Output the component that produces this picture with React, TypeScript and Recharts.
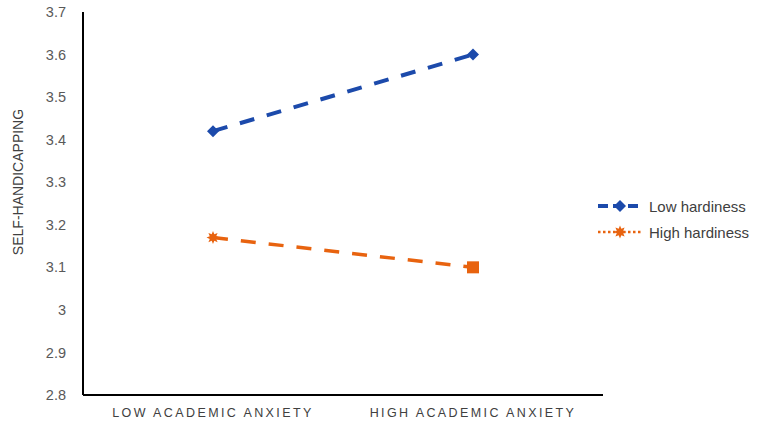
import { LineChart, Line, XAxis, YAxis, Legend } from 'recharts'

const categories = ['LOW ACADEMIC ANXIETY', 'HIGH ACADEMIC ANXIETY']
const lowHardiness = [3.42, 3.6]
const highHardiness = [3.17, 3.1]
const yTicks = [2.8, 2.9, 3, 3.1, 3.2, 3.3, 3.4, 3.5, 3.6, 3.7]

const BLUE = '#1c4aab'
const ORANGE = '#e8630f'

const data = categories.map((name, i) => ({
  name,
  low: lowHardiness[i],
  high: highHardiness[i],
}))

function Diamond({ cx, cy, color }: any) {
  return (
    <path
      d={`M${cx},${cy - 6} L${cx + 6},${cy} L${cx},${cy + 6} L${cx - 6},${cy} Z`}
      fill={color}
    />
  )
}

function Star({ cx, cy, color }: any) {
  const pts: string[] = []
  for (let k = 0; k < 16; k++) {
    const r = k % 2 === 0 ? 6.5 : 3.5
    const a = (Math.PI * 2 * k) / 16
    pts.push(`${cx + r * Math.cos(a)},${cy + r * Math.sin(a)}`)
  }
  return <polygon points={pts.join(' ')} fill={color} />
}

function LowDot(props: any) {
  return <Diamond key={props.index} cx={props.cx} cy={props.cy} color={BLUE} />
}

function HighDot(props: any) {
  if (props.index === 0) return <Star key={props.index} cx={props.cx} cy={props.cy} color={ORANGE} />
  return (
    <rect key={props.index} x={props.cx - 6} y={props.cy - 6} width={12} height={12} fill={ORANGE} />
  )
}

function LegendBox() {
  const rows = [
    { label: 'Low hardiness', color: BLUE, dash: '10 5', width: 4, mark: 'diamond' },
    { label: 'High hardiness', color: ORANGE, dash: '2.5 2.5', width: 2.5, mark: 'star' },
  ]
  return (
    <div style={{ width: 168 }}>
      {rows.map((r) => (
        <div key={r.label} style={{ display: 'flex', alignItems: 'center', height: 26 }}>
          <svg width={48} height={16}>
            <line x1={1} y1={8} x2={45} y2={8} stroke={r.color} strokeWidth={r.width} strokeDasharray={r.dash} />
            {r.mark === 'diamond' ? (
              <Diamond cx={23} cy={8} color={r.color} />
            ) : (
              <Star cx={23} cy={8} color={r.color} />
            )}
          </svg>
          <span style={{ fontFamily: 'Arial, "Liberation Sans", sans-serif', fontSize: 15, color: '#404040', marginLeft: 4 }}>
            {r.label}
          </span>
        </div>
      ))}
    </div>
  )
}

function YLabel() {
  return (
    <text
      x={18}
      y={182}
      transform="rotate(-90 18 182)"
      textAnchor="middle"
      dominantBaseline="central"
      fill="#404040"
      fontSize={14}
      fontFamily="Arial, 'Liberation Sans', sans-serif"
    >
      SELF-HANDICAPPING
    </text>
  )
}

export default function App() {
  return (
    <div style={{ position: 'absolute', left: 0, top: 0, background: '#fff' }}>
      <LineChart width={765} height={426} data={data} margin={{ top: 12, right: 162, bottom: 0, left: 0 }}>
        <XAxis
          dataKey="name"
          padding={{ left: 130, right: 130 }}
          axisLine={{ stroke: '#000', strokeWidth: 2 }}
          tickLine={false}
          tickSize={0}
          tickMargin={13}
          height={31}
          tick={{ fill: '#404040', fontSize: 12.5, letterSpacing: 2.4, fontFamily: 'Arial, "Liberation Sans", sans-serif' }}
        />
        <YAxis
          width={83}
          domain={[2.8, 3.7]}
          ticks={yTicks}
          interval={0}
          axisLine={{ stroke: '#000', strokeWidth: 2 }}
          tickLine={false}
          tickSize={0}
          tickMargin={17}
          tickFormatter={(v: number) => String(Number(v.toFixed(1)))}
          tick={{ fill: '#595959', fontSize: 14.5, fontFamily: 'Arial, "Liberation Sans", sans-serif' }}
          label={<YLabel />}
        />
        <Legend
          layout="vertical"
          align="center"
          verticalAlign="middle"
          wrapperStyle={{ left: 597, top: 193, width: 168 }}
          content={<LegendBox />}
        />
        <Line
          type="linear"
          dataKey="low"
          name="Low hardiness"
          stroke={BLUE}
          strokeWidth={4}
          strokeDasharray="15 13"
          dot={LowDot}
          activeDot={false}
          isAnimationActive={false}
        />
        <Line
          type="linear"
          dataKey="high"
          name="High hardiness"
          stroke={ORANGE}
          strokeWidth={3.5}
          strokeDasharray="15 13"
          dot={HighDot}
          activeDot={false}
          isAnimationActive={false}
        />
      </LineChart>
    </div>
  )
}
